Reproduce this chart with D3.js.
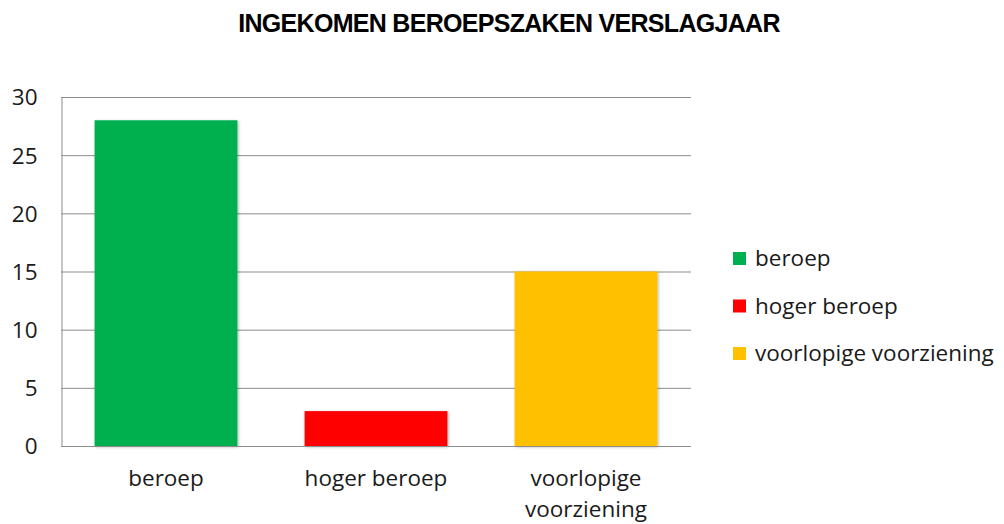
<!DOCTYPE html>
<html>
<head>
<meta charset="utf-8">
<script src="https://cdn.jsdelivr.net/npm/d3@7"></script>
<style>
  body { margin: 0; background: #fff; }
  text { font-family: "Open Sans", "Noto Sans", sans-serif; fill: #1a1a1a; }
</style>
</head>
<body>
<div id="chart"></div>
<script>
"use strict";

var categories = ["beroep", "hoger beroep", "voorlopige voorziening"];
var values = [28, 3, 15];
var colors = ["#00B050", "#FF0000", "#FFC000"];
var yTicks = [0, 5, 10, 15, 20, 25, 30];
var title = "INGEKOMEN BEROEPSZAKEN VERSLAGJAAR";

var w = 1004,
  h = 524,
  plotLeft = 61,
  plotRight = 691,
  plotTop = 97,
  plotBottom = 446,
  fontSize = "22.5px";

var svg = d3.select("#chart").append("svg")
  .attr("width", w)
  .attr("height", h);

var defs = svg.append("defs");
var f = defs.append("filter").attr("id", "shadow")
  .attr("x", "-10%").attr("y", "-10%").attr("width", "120%").attr("height", "120%");
f.append("feDropShadow").attr("dx", 1).attr("dy", 1).attr("stdDeviation", 1.5)
  .attr("flood-color", "#000").attr("flood-opacity", 0.3);

var x = d3.scaleBand().domain(categories).range([plotLeft, plotRight])
  .paddingInner(0.32).paddingOuter(0.16);
var y = d3.scaleLinear().domain([0, 30]).range([plotBottom, plotTop]);

//title
svg.append("text")
  .attr("x", 509).attr("y", 32)
  .attr("text-anchor", "middle")
  .style("font-family", "'Liberation Sans', Arial, sans-serif")
  .style("font-weight", "bold")
  .style("font-size", "25px")
  .style("letter-spacing", "-0.7px")
  .style("fill", "#000")
  .text(title);

//gridlines
svg.append("g").selectAll("line")
  .data(yTicks)
  .enter().append("line")
  .attr("x1", plotLeft).attr("x2", plotRight)
  .attr("y1", function(d) { return y(d) + 0.5; })
  .attr("y2", function(d) { return y(d) + 0.5; })
  .attr("stroke", "#8c8c8c").attr("stroke-width", 1);

//y axis
var yAxis = svg.append("g")
  .attr("transform", "translate(" + (plotLeft + 0.5) + ",0)")
  .call(d3.axisLeft(y).tickValues(yTicks).tickSize(0).tickPadding(24));
yAxis.select(".domain").attr("stroke", "#8c8c8c");
yAxis.selectAll("text").style("font-size", fontSize).style("fill", "#1a1a1a")
  .style("font-family", "'Open Sans', sans-serif")
  .attr("dy", "0.35em");

//bars
svg.append("g").selectAll("rect")
  .data(values)
  .enter().append("rect")
  .attr("x", function(d, i) { return x(categories[i]); })
  .attr("y", function(d) { return y(d); })
  .attr("width", x.bandwidth())
  .attr("height", function(d) { return plotBottom - y(d); })
  .attr("fill", function(d, i) { return colors[i]; })
  .attr("filter", "url(#shadow)");

//x axis line
svg.append("line")
  .attr("x1", plotLeft).attr("x2", plotRight)
  .attr("y1", plotBottom + 0.5).attr("y2", plotBottom + 0.5)
  .attr("stroke", "#8c8c8c");

//x labels, wrapped like the original
var xLabels = [["beroep"], ["hoger beroep"], ["voorlopige", "voorziening"]];
svg.append("g").selectAll("text")
  .data(categories)
  .enter().append("text")
  .attr("text-anchor", "middle")
  .attr("x", function(d) { return x(d) + x.bandwidth() / 2; })
  .attr("y", 486)
  .style("font-size", fontSize)
  .each(function(d, i) {
    var t = d3.select(this);
    xLabels[i].forEach(function(line, j) {
      t.append("tspan")
        .attr("x", x(d) + x.bandwidth() / 2)
        .attr("dy", j === 0 ? 0 : 31)
        .text(line);
    });
  });

//legend
var legend = svg.append("g").selectAll("g")
  .data(categories)
  .enter().append("g")
  .attr("transform", function(d, i) { return "translate(733," + (252 + i * 47.5) + ")"; });
legend.append("rect")
  .attr("width", 13).attr("height", 13)
  .attr("fill", function(d, i) { return colors[i]; });
legend.append("text")
  .attr("x", 22).attr("y", 6.5).attr("dy", "0.35em")
  .style("font-size", fontSize)
  .text(function(d) { return d; });
</script>
</body>
</html>
